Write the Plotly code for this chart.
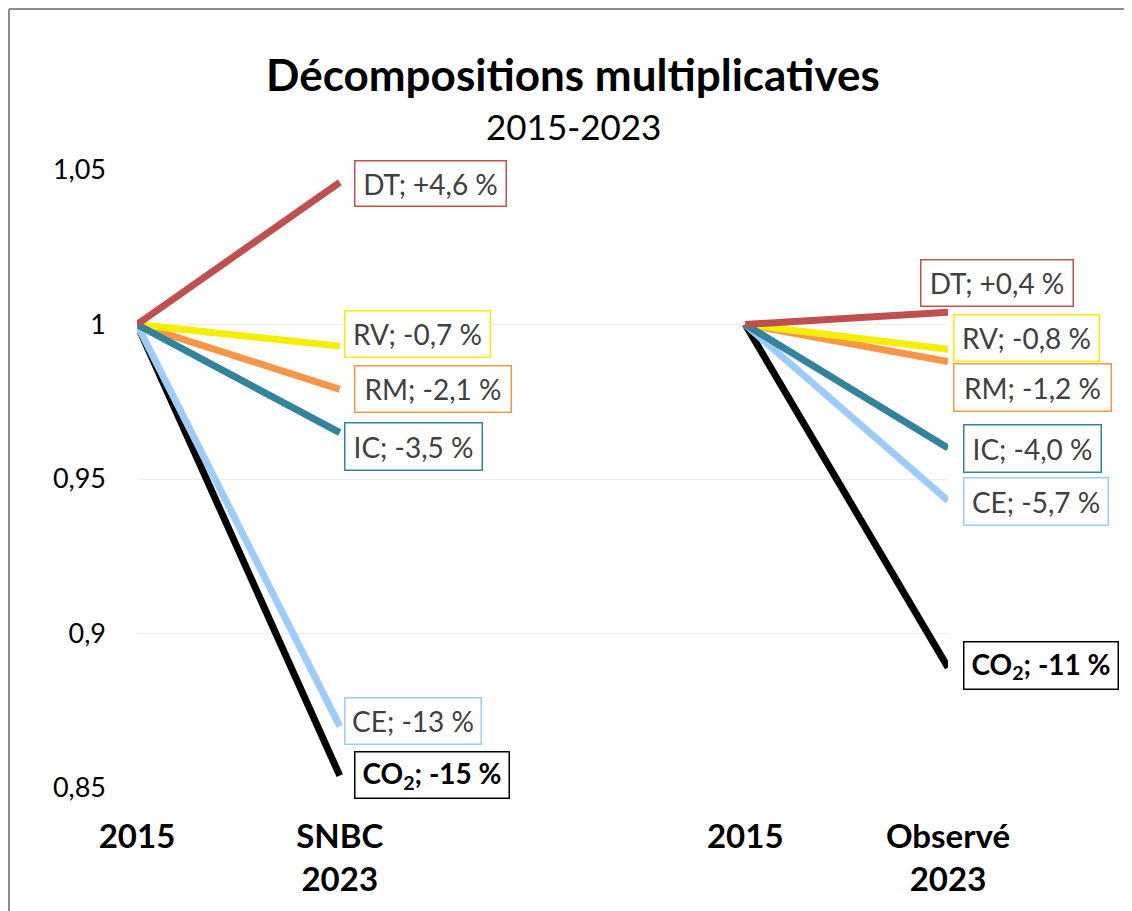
import plotly.graph_objects as go

# ---- data ----
categories = ["2015", "SNBC<br>2023", "", "2015", "Observé<br>2023"]
series = ["CO<sub>2</sub>", "CE", "RM", "RV", "IC", "DT"]
colors = {"DT": "#C0504D", "RV": "#F5EE00", "RM": "#F79646",
          "IC": "#31849B", "CE": "#9DCBFA", "CO<sub>2</sub>": "#000000"}
snbc_2023 = {"DT": 1.046, "RV": 0.993, "RM": 0.979, "IC": 0.965,
             "CE": 0.870, "CO<sub>2</sub>": 0.854}
obs_2023 = {"DT": 1.004, "RV": 0.992, "RM": 0.988, "IC": 0.960,
            "CE": 0.943, "CO<sub>2</sub>": 0.889}
snbc_labels = {"DT": "+4,6 %", "RV": "-0,7 %", "RM": "-2,1 %", "IC": "-3,5 %",
               "CE": "-13 %", "CO<sub>2</sub>": "-15 %"}
obs_labels = {"DT": "+0,4 %", "RV": "-0,8 %", "RM": "-1,2 %", "IC": "-4,0 %",
              "CE": "-5,7 %", "CO<sub>2</sub>": "-11 %"}
base = 1.0
y_ticks = [0.85, 0.9, 0.95, 1.0, 1.05]
y_ticktext = ["0,85", "0,9", "0,95", "1", "1,05"]

# ---- layout geometry (page has an 8px body margin) ----
OFF = 8
W, H = 1132 - OFF, 911 - OFF
ML, MT = 137 - OFF, 170 - OFF
MR, MB = 1132 - 948, 911 - 788
PW, PH = W - ML - MR, H - MT - MB

def px_x(p):
    return (p - OFF - ML) / PW

def px_y(p):
    return (MT + PH - (p - OFF)) / PH

# label placement (xshift, yshift, box width, box height)
snbc_pos = {"DT": (14, -1, 152, 46), "RV": (4, 12, 146, 47), "RM": (14, 0, 157, 47),
            "IC": (4, -14, 138, 48), "CE": (4, 5, 137, 47), "CO<sub>2</sub>": (14, 1, 155, 47)}
obs_pos = {"DT": (-28, 29, 153, 47), "RV": (5, 11, 146, 47), "RM": (5, -26, 158, 48),
           "IC": (15, 0, 138, 48), "CE": (15, -1, 145, 48), "CO<sub>2</sub>": (15, 2, 155, 48)}

FONT = "Lato"
fig = go.Figure()

for s in series:
    for x0, x1, vals in [(0, 1, snbc_2023), (3, 4, obs_2023)]:
        fig.add_trace(go.Scatter(
            x=[x0, x1], y=[base, vals[s]], mode="lines",
            line=dict(color=colors[s], width=7),
            showlegend=False, hoverinfo="skip", cliponaxis=False))

annotations = []
for s in series:
    for xi, vals, labs, pos in [(1, snbc_2023, snbc_labels, snbc_pos),
                                (4, obs_2023, obs_labels, obs_pos)]:
        xs, ys, bw, bh = pos[s]
        bold = s.startswith("CO")
        annotations.append(dict(
            x=xi, y=vals[s], xref="x", yref="y",
            text=(f"<b>{s}; {labs[s]}</b>" if bold else f"{s}; {labs[s]}"),
            showarrow=False, xanchor="left", yanchor="middle",
            xshift=xs, yshift=ys,
            width=bw - 8, height=bh - 8, borderpad=3, align="center", valign="middle",
            bordercolor=colors[s], borderwidth=1.5, bgcolor="white",
            font=dict(family=FONT, size=28,
                      color="#000000" if bold else "#404040")))

annotations.append(dict(
    x=px_x(573), y=px_y(74), xref="paper", yref="paper",
    text="<b>Décompositions multiplicatives</b>", showarrow=False,
    xanchor="center", yanchor="middle", font=dict(family=FONT, size=44, color="#000")))
annotations.append(dict(
    x=px_x(573), y=px_y(126), xref="paper", yref="paper",
    text="2015-2023", showarrow=False,
    xanchor="center", yanchor="middle", font=dict(family=FONT, size=35, color="#000")))

shapes = [
    dict(type="line", xref="paper", yref="paper", x0=px_x(9), x1=px_x(1150),
         y0=px_y(9), y1=px_y(9), line=dict(color="#8C8C8C", width=2)),
    dict(type="line", xref="paper", yref="paper", x0=px_x(9), x1=px_x(9),
         y0=px_y(9), y1=px_y(930), line=dict(color="#8C8C8C", width=2)),
]

fig.update_layout(
    width=W, height=H, margin=dict(l=ML, r=MR, t=MT, b=MB),
    paper_bgcolor="white", plot_bgcolor="white",
    annotations=annotations, shapes=shapes,
    separators=", ",
    xaxis=dict(range=[0, 4], tickmode="array", tickvals=list(range(len(categories))),
               ticktext=[f"<b>{c}</b>" if c else "" for c in categories],
               showgrid=False, zeroline=False, showline=False, ticks="",
               tickfont=dict(family=FONT, size=33, color="#000"),
               ticklabelstandoff=26, fixedrange=True),
    yaxis=dict(range=[0.85, 1.05], tickmode="array", tickvals=y_ticks,
               ticktext=y_ticktext, showgrid=True, gridcolor="#EDEDED", gridwidth=1,
               zeroline=False, showline=False, ticks="",
               tickfont=dict(family=FONT, size=27, color="#000"),
               ticklabelstandoff=30, fixedrange=True),
)

fig.write_html("out.html")
